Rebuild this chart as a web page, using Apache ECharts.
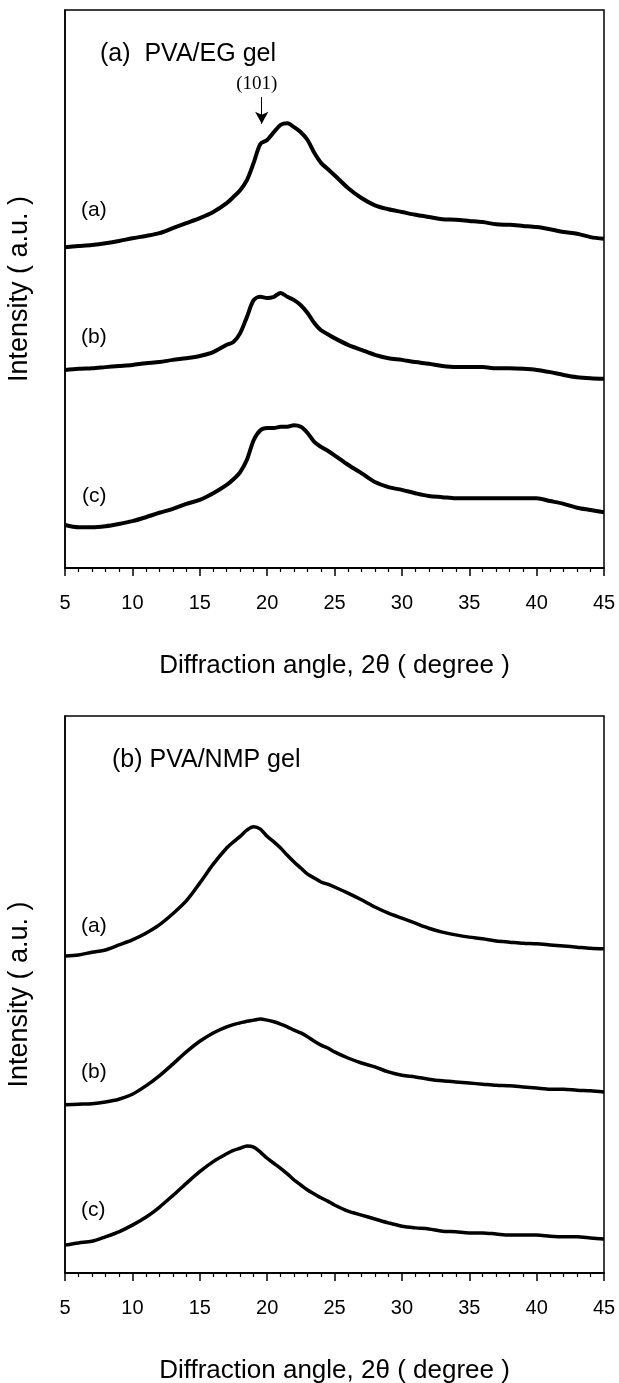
<!DOCTYPE html>
<html>
<head>
<meta charset="utf-8">
<script src="https://cdn.jsdelivr.net/npm/echarts@6/dist/echarts.min.js"></script>
<style>
html,body{margin:0;padding:0;background:#fff;}
#chart{width:619px;height:1383px;}
</style>
</head>
<body>
<div id="chart"></div>
<script>
// Diffraction angle 2θ (degree)
const angles = [5,6,7,8,9,10,11,12,13,14,15,16,17,17.5,18,18.5,19,19.5,20,20.5,21,21.5,22,22.5,23,23.5,24,24.5,25,26,27,28,29,30,31,32,33,34,35,36,37,38,39,40,41,42,43,44,45];
const xTickLabels = [5,10,15,20,25,30,35,40,45];

// (a) PVA/EG gel — stacked intensities (a.u.)
const egA = [575,577,579,582,586,591,595,600,609,618,627,638,654,665,677,695,726,760,767,781,794,797,790,781,767,744,726,715,704,681,663,650,643,638,633,629,625,624,622,620,616,615,613,611,607,602,599,593,590];
const egB = [355,357,358,360,362,364,367,369,373,376,380,387,400,405,421,450,480,486,484,486,493,486,480,471,457,439,426,419,412,400,391,382,376,373,369,366,362,360,360,360,358,358,357,355,351,346,342,340,339];
const egC = [77,73,73,75,79,84,91,99,106,115,122,134,149,159,172,194,229,247,251,251,253,253,256,253,242,226,217,210,202,185,170,154,145,140,134,129,127,125,125,125,125,125,125,125,120,115,108,104,100];

// (b) PVA/NMP gel — stacked intensities (a.u.)
const nmpA = [569,571,576,580,589,598,610,625,645,668,700,734,763,774,784,795,801,797,784,774,763,750,738,727,716,709,702,698,693,682,670,657,646,637,628,619,612,607,603,600,596,594,592,591,589,587,585,583,582];
const nmpB = [302,303,304,307,312,321,336,354,375,397,416,431,442,446,449,452,454,456,454,451,447,442,436,431,424,416,409,404,397,386,377,370,361,355,352,348,345,343,341,339,337,336,334,332,330,330,328,327,325];
const nmpC = [50,54,57,65,74,86,100,118,139,161,182,200,214,220,224,228,226,217,206,197,188,178,167,158,149,142,135,129,122,111,104,97,90,84,81,79,75,74,72,72,70,68,68,68,66,65,65,63,61];

const curveNames = ['(a)','(b)','(c)'];
const panelTitles = ['(a)  PVA/EG gel','(b) PVA/NMP gel'];
const peakLabel = '(101)';
const peakAngle = 19.6;
const peakArrow = [844, 796];

const toPairs = arr => angles.map((x,i)=>[x,arr[i]]);
const FONT = "'Liberation Sans', Arial, sans-serif";

function xAxisOpt(gi){
  return {
    gridIndex: gi, type:'value', min:5, max:45, interval:5,
    axisLine:{show:true, lineStyle:{color:'#000', width:2}},
    axisTick:{show:true, inside:false, length:8, lineStyle:{color:'#000', width:1.5}},
    minorTick:{show:true, splitNumber:5, length:4, lineStyle:{color:'#000', width:1.2}},
    axisLabel:{show:true, margin:25, color:'#000', fontSize:20, fontFamily:FONT,
      formatter: v => xTickLabels.indexOf(v) >= 0 ? String(v) : ''},
    splitLine:{show:false}, minorSplitLine:{show:false},
    name:'Diffraction angle, 2\u03b8 ( degree )', nameLocation:'middle', nameGap:85,
    nameTextStyle:{color:'#000', fontSize:26, fontFamily:FONT}
  };
}
function yAxisOpt(gi){
  return {
    gridIndex: gi, type:'value', min:0, max:1000,
    axisLine:{show:true, lineStyle:{color:'#000', width:1.5}},
    axisTick:{show:false}, axisLabel:{show:false}, splitLine:{show:false},
    name:'Intensity ( a.u. )', nameLocation:'middle', nameGap:32, nameRotate:90,
    nameTextStyle:{color:'#000', fontSize:27, fontFamily:FONT}
  };
}
function lineSeries(gi, arr, w){
  return {
    type:'line', xAxisIndex:gi, yAxisIndex:gi, data:toPairs(arr),
    showSymbol:false, smooth:0.3, lineStyle:{color:'#000', width:w},
    silent:true, animation:false
  };
}

const series = [
  lineSeries(0, egA, 4), lineSeries(0, egB, 4), lineSeries(0, egC, 4),
  lineSeries(1, nmpA, 3.5), lineSeries(1, nmpB, 3.5), lineSeries(1, nmpC, 3.5)
];
series[0].markLine = {
  silent:true, animation:false, symbol:['none','arrow'], symbolSize:[10,12],
  lineStyle:{color:'#000', width:1, type:'solid'},
  label:{show:true, position:'start', formatter:peakLabel, color:'#000', fontSize:19,
    fontFamily:"'Liberation Serif', 'Times New Roman', serif", distance:4, offset:[-5,0]},
  data:[[{coord:[peakAngle, peakArrow[0]]},{coord:[peakAngle, peakArrow[1]]}]]
};

const option = {
  backgroundColor:'#fff',
  animation:false,
  grid:[
    {left:65, top:10, width:539, height:558, show:true, borderColor:'#000', borderWidth:1.5, backgroundColor:'transparent', containLabel:false, outerBoundsMode:'none'},
    {left:65, top:716, width:539, height:557, show:true, borderColor:'#000', borderWidth:1.5, backgroundColor:'transparent', containLabel:false, outerBoundsMode:'none'}
  ],
  xAxis:[xAxisOpt(0), xAxisOpt(1)],
  yAxis:[yAxisOpt(0), yAxisOpt(1)],
  series: series,
  graphic:[
    {type:'text', left:100, top:42, silent:true, style:{text:panelTitles[0], fill:'#000', font:`25px ${FONT}`}},
    {type:'text', left:112, top:748, silent:true, style:{text:panelTitles[1], fill:'#000', font:`25px ${FONT}`}},
    {type:'text', left:81, top:200, silent:true, style:{text:curveNames[0], fill:'#000', font:`21px ${FONT}`}},
    {type:'text', left:81, top:327, silent:true, style:{text:curveNames[1], fill:'#000', font:`21px ${FONT}`}},
    {type:'text', left:82, top:486, silent:true, style:{text:curveNames[2], fill:'#000', font:`21px ${FONT}`}},
    {type:'text', left:81, top:916, silent:true, style:{text:curveNames[0], fill:'#000', font:`21px ${FONT}`}},
    {type:'text', left:81, top:1062, silent:true, style:{text:curveNames[1], fill:'#000', font:`21px ${FONT}`}},
    {type:'text', left:81, top:1200, silent:true, style:{text:curveNames[2], fill:'#000', font:`21px ${FONT}`}}
  ]
};
const chart = echarts.init(document.getElementById('chart'), null, {renderer:'canvas'});
chart.setOption(option);
</script>
</body>
</html>
